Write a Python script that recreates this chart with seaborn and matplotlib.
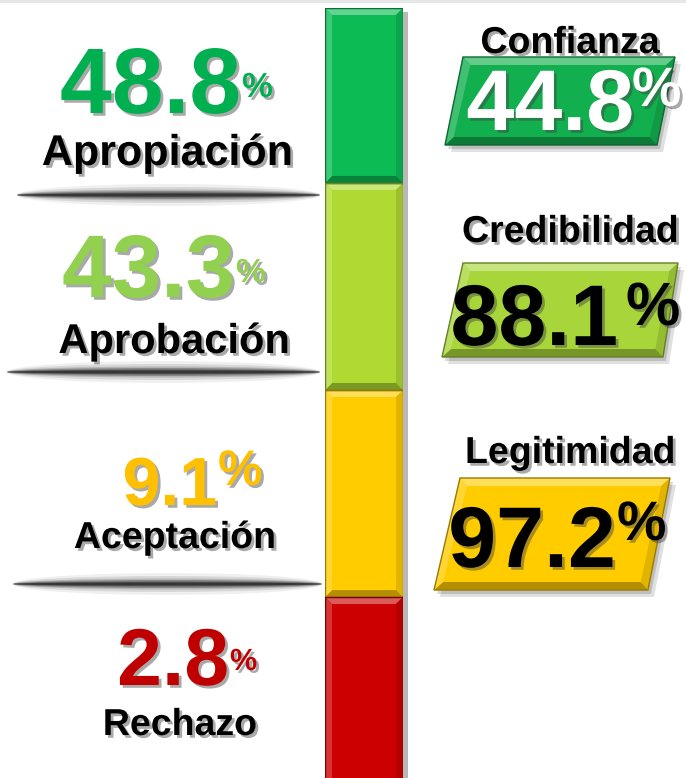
import matplotlib
matplotlib.use('Agg')
import matplotlib.pyplot as plt
import matplotlib.patheffects as pe
from matplotlib.patches import Polygon, Ellipse, Rectangle
from matplotlib.colors import to_rgb
import numpy as np
import seaborn as sns

# Values
left_labels = ['Apropiación', 'Aprobación', 'Aceptación', 'Rechazo']
left_values = [48.8, 43.3, 9.1, 2.8]
right_labels = ['Confianza', 'Credibilidad', 'Legitimidad']
right_values = [44.8, 88.1, 97.2]
scale_band = [1, 1, 1, 1]  # the colour scale has equal segments

# Colours
number_colors = ['#00B050', '#92D050', '#FFC000', '#C00000']
column_colors = ['#0DBB55', '#B0DA32', '#FFCC00', '#CC0000']
box_colors = ['#12AF4F', '#A8D63A', '#FFCC00']
box_text_colors = ['white', 'black', 'black']

sns.set_theme(style='white')
plt.rcParams['font.family'] = ['Liberation Sans', 'DejaVu Sans']
plt.rcParams['font.weight'] = 'bold'


def shade(c, f):
    c = np.array(to_rgb(c))
    if f > 0:
        return tuple(c + (1 - c) * f)
    return tuple(c * (1 + f))


def bevel(ax, pts, color, wx, wy, body=True):
    pts = np.array(pts, float)
    c = pts.mean(axis=0)
    wtop = abs(pts[1, 0] - pts[0, 0])
    h = abs(pts[3, 1] - pts[0, 1])
    inner = c + (pts - c) * np.array([1 - 2 * wx / wtop, 1 - 2 * wy / h])
    if body:
        ax.add_patch(Polygon(pts, closed=True, facecolor=color, lw=0, zorder=2))
    facets = [([0, 1], shade(color, 0.35)), ([1, 2], shade(color, -0.12)),
              ([2, 3], shade(color, -0.3)), ([3, 0], shade(color, 0.2))]
    for (i, j), fc in facets:
        quad = [pts[i], pts[j], inner[j], inner[i]]
        ax.add_patch(Polygon(quad, closed=True, facecolor=fc, lw=0, zorder=3))
    ax.add_patch(Polygon(pts, closed=True, fill=False, edgecolor=shade(color, -0.4),
                         lw=1, zorder=4))


shadow = [pe.SimplePatchShadow(offset=(2, -2), shadow_rgbFace='#404040', alpha=0.45),
          pe.Normal()]

fig = plt.figure(figsize=(6.86, 7.78), dpi=100)
ax = fig.add_axes([0, 0, 1, 1])
ax.set_xlim(0, 686)
ax.set_ylim(778, 0)
ax.axis('off')
ax.axhline(1, color='#e6e6e6', lw=3)

# left side: values and labels
num_x = [241, 235, 217, 229]
num_base = [113, 297, 505, 685]
num_size = [67, 64, 49, 58]
pct_base = [97, 282, 485, 670]
pct_size = [25, 24, 36, 22]
lab_x = [167, 174, 175, 180]
lab_base = [165, 353, 548, 735]
lab_size = [31, 30, 27, 27]

for i, (lab, val) in enumerate(zip(left_labels, left_values)):
    ax.text(num_x[i], num_base[i], f'{val:.1f}', ha='right', va='baseline',
            fontsize=num_size[i], color=number_colors[i], fontweight='bold',
            path_effects=shadow, zorder=5)
    ax.text(num_x[i] + 1, pct_base[i], '%', ha='left', va='baseline',
            fontsize=pct_size[i], color=number_colors[i], fontweight='bold',
            path_effects=shadow, zorder=5)
    ax.text(lab_x[i], lab_base[i], lab, ha='center', va='baseline',
            fontsize=lab_size[i], color='black', fontweight='bold',
            path_effects=shadow, zorder=5)

# divider shadows
div_y = [191, 368, 580]
div_x = [(17, 320), (7, 320), (13, 322)]
for y, (x0, x1) in zip(div_y, div_x):
    for hgt, a in [(22, 0.06), (16, 0.1), (11, 0.16), (8, 0.24), (5, 0.32), (3, 0.4)]:
        ax.add_patch(Ellipse(((x0 + x1) / 2, y + 4), x1 - x0, hgt,
                             color='black', alpha=a, lw=0))

# right side: boxes
boxes = [[(463, 57), (675, 57), (657, 145), (445, 145)],
         [(463, 263), (678, 263), (663, 357), (442, 357)],
         [(460, 478), (670, 478), (648, 590), (434, 590)]]
rlab_base = [53, 242, 463]
rnum_x = [634, 618, 616]
rnum_base = [130, 345, 567]
rpct_x = [632, 626, 617]
rpct_base = [106, 325, 540]
rpct_size = [40, 44, 40]

for i, (lab, val) in enumerate(zip(right_labels, right_values)):
    pts = np.array(boxes[i], float)
    ax.add_patch(Polygon(pts + [6, 7], color='black', alpha=0.12, lw=0, zorder=1))
    ax.add_patch(Polygon(pts + [3, 4], color='black', alpha=0.15, lw=0, zorder=1))
    bevel(ax, pts, box_colors[i], 8, 8)
    ax.text(570, rlab_base[i], lab, ha='center', va='baseline', fontsize=27,
            color='black', fontweight='bold', path_effects=shadow, zorder=5)
    ax.text(rnum_x[i], rnum_base[i], f'{val:.1f}', ha='right', va='baseline',
            fontsize=62, color=box_text_colors[i], fontweight='bold',
            path_effects=shadow, zorder=5)
    ax.text(rpct_x[i], rpct_base[i], '%', ha='left', va='baseline',
            fontsize=rpct_size[i], color=box_text_colors[i], fontweight='bold',
            path_effects=shadow, zorder=5)

# column shadow
ax.add_patch(Rectangle((328, 12), 80, 770, color='black', alpha=0.28, lw=0))

# colour scale column
cax = fig.add_axes([325 / 686, 0, 78 / 686, 770 / 778])
sns.barplot(x=scale_band, y=left_labels, hue=left_labels, palette=column_colors,
            orient='h', width=1.0, legend=False, saturation=1, ax=cax,
            linewidth=1.5)
cax.set_xlim(0, 1)
cax.set_ylim(3.374, -0.345)
cax.axis('off')

p0 = cax.transData.transform((0, 0))
p1 = cax.transData.transform((1, 1))
sx, sy = abs(p1[0] - p0[0]), abs(p1[1] - p0[1])
top_lim = min(cax.get_ylim())
for p, col in zip(cax.patches, column_colors):
    p.set_edgecolor(shade(col, -0.45))
    x0, w = p.get_x(), p.get_width()
    top = max(p.get_y(), top_lim)
    bot = p.get_y() + p.get_height()
    pts = [(x0, top), (x0 + w, top), (x0 + w, bot), (x0, bot)]
    bevel(cax, pts, col, 7 / sx, 7 / sy, body=False)

fig.savefig('out.png', dpi=100)
